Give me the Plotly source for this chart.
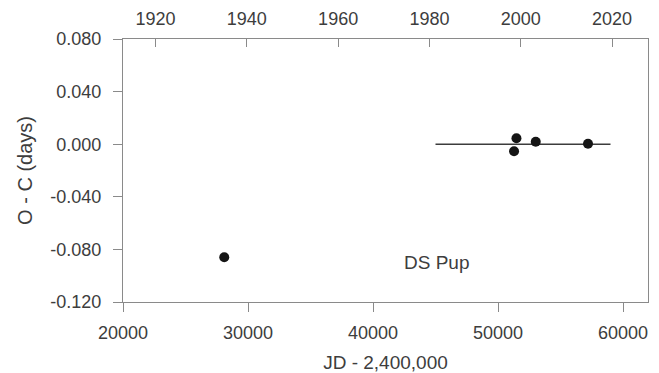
import plotly.graph_objects as go

# Data (JD - 2,400,000 vs O - C in days)
jd = [28100, 51284, 51476, 53019, 57200]
oc = [-0.086, -0.0054, 0.0045, 0.0019, 0.0004]
fit_jd = [45000, 59000]
fit_oc = [0.0, 0.0]

x_ticks = [20000, 30000, 40000, 50000, 60000]
x_ticktext = ["20000", "30000", "40000", "50000", "60000"]
y_ticks = [0.08, 0.04, 0.0, -0.04, -0.08, -0.12]
y_ticktext = ["0.080", "0.040", "0.000", "-0.040", "-0.080", "-0.120"]
year_ticks = [1920, 1940, 1960, 1980, 2000, 2020]

x_range = [20000, 62000]
# year = 2000 + (JD - 51820) / 365.25  (top axis)
year_range = [2000 + (x_range[0] - 51820) / 365.25, 2000 + (x_range[1] - 51820) / 365.25]

txt = "#3d3d3d"
axc = "#8a8a8a"
font = "Liberation Sans, Arial, sans-serif"

fig = go.Figure()
fig.add_trace(go.Scatter(x=fit_jd, y=fit_oc, mode="lines",
                         line=dict(color="#3c3c3c", width=1.6), showlegend=False, hoverinfo="skip"))
fig.add_trace(go.Scatter(x=jd, y=oc, mode="markers",
                         marker=dict(color="#151515", size=10), showlegend=False))
# invisible trace for top axis
fig.add_trace(go.Scatter(x=year_range, y=[None, None], xaxis="x2", mode="markers",
                         marker=dict(opacity=0), showlegend=False, hoverinfo="skip"))

fig.add_annotation(x=45100, y=-0.090, text="DS Pup", showarrow=False,
                   font=dict(size=19, color=txt, family=font), xanchor="center", yanchor="middle")

fig.update_layout(
    width=659, height=373,
    margin=dict(l=123, r=11, t=39, b=71),
    paper_bgcolor="white", plot_bgcolor="white",
    font=dict(family=font, color=txt, size=18),
    xaxis=dict(range=x_range, tickvals=x_ticks, ticktext=x_ticktext, ticks="outside", ticklen=9,
               tickcolor=axc, showline=True, linecolor=axc, linewidth=1.2, showgrid=False,
               zeroline=False, tickfont=dict(size=18, color=txt), ticklabelstandoff=5,
               automargin=False,
               title=dict(text="JD - 2,400,000", font=dict(size=19, color=txt), standoff=15)),
    xaxis2=dict(range=year_range, overlaying="x", side="top", tickvals=year_ticks,
                ticks="inside", ticklen=8, tickcolor=axc, showline=True, linecolor=axc, linewidth=1.2,
                showgrid=False, zeroline=False, tickfont=dict(size=18, color=txt),
                ticklabelstandoff=6, automargin=False),
    yaxis=dict(range=[-0.12, 0.08], tickvals=y_ticks, ticktext=y_ticktext, ticks="outside",
               ticklen=9, tickcolor=axc, showline=True, linecolor=axc, linewidth=1.2, mirror=True,
               showgrid=False, zeroline=False, tickfont=dict(size=18, color=txt),
               ticklabelstandoff=8, automargin=False,
               title=dict(text="O - C (days)", font=dict(size=20, color=txt), standoff=12)),
)

fig.write_html("out.html")
